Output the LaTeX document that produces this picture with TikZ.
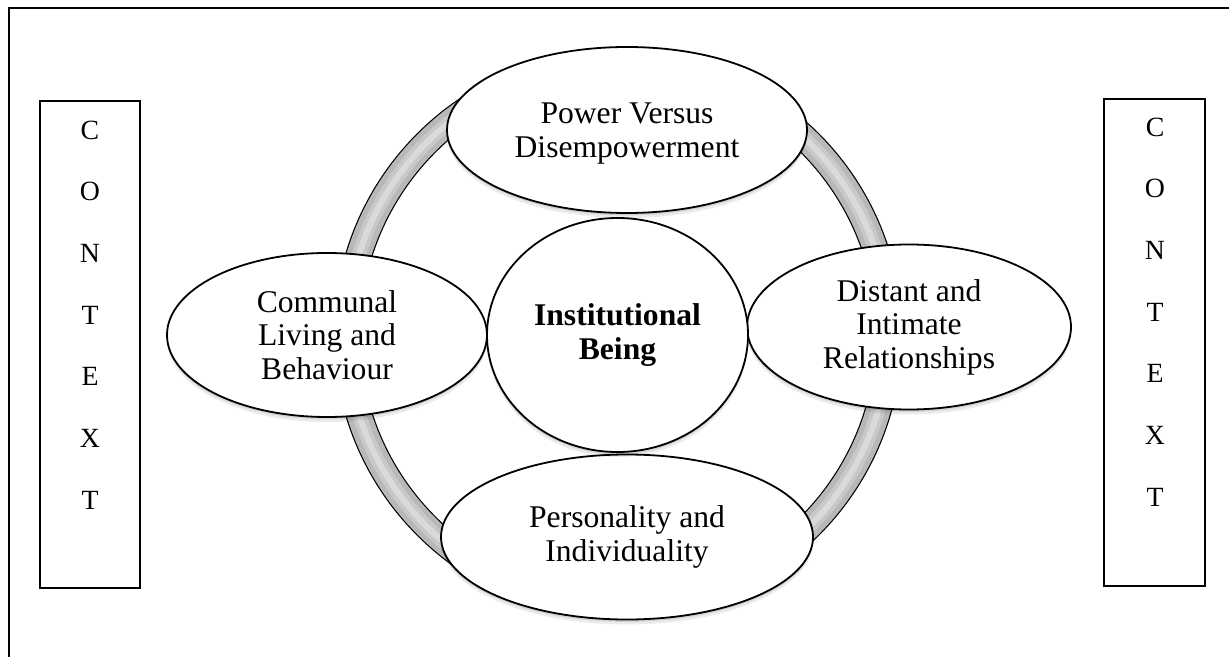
\documentclass[tikz,border=0pt]{standalone}
\usepackage{fontspec}
\setmainfont{Liberation Serif}
\usetikzlibrary{shapes.geometric}
\definecolor{ringA}{RGB}{184,184,184}
\definecolor{ringB}{RGB}{200,200,200}
\definecolor{ringC}{RGB}{218,218,218}
\begin{document}
\begin{tikzpicture}[x=0.5pt,y=-0.5pt,
  lbl/.style={font=\fontsize{15.8}{16.8}\selectfont, align=center},
  softshadow/.style={preaction={fill=black,opacity=0.08,transform canvas={yshift=-2.5pt}},
                     preaction={fill=black,opacity=0.10,transform canvas={yshift=-1.2pt}}},
  bubble/.style={ellipse, draw, line width=0.9pt, fill=white, inner sep=0pt, softshadow, lbl},
  ctxbox/.style={draw, line width=1pt, inner sep=0pt},
  ctxletter/.style={font=\fontsize{13.9}{14}\selectfont, inner sep=0pt}]
\useasboundingbox (0,0) rectangle (1229,657);
% outer frame
\draw[line width=1.2pt] (9,657) -- (9,8) -- (1229,8);
% ring
\coordinate (rc) at (618,334.5);
\draw[black, line width=13.4pt] (rc) circle[radius=271];
\draw[ringA, line width=12.2pt] (rc) circle[radius=271];
\draw[ringB, line width=7pt] (rc) circle[radius=271];
\draw[ringC, line width=3pt] (rc) circle[radius=271];
% bubbles
\node[bubble, minimum width=180pt, minimum height=83pt] (power) at (627,130) {\rule{0pt}{14pt}Power Versus\\Disempowerment};
\node[bubble, minimum width=160pt, minimum height=82pt] (communal) at (327,335) {Communal\\Living and\\Behaviour};
\node[bubble, minimum width=162pt, minimum height=82.5pt] (distant) at (909,327) {Distant and\\Intimate\\Relationships};
\node[bubble, minimum width=186pt, minimum height=82.5pt] (personality) at (627,537) {Personality and\\Individuality};
\node[bubble, minimum width=130.5pt, minimum height=117pt, font=\fontsize{15.8}{16.8}\selectfont\bfseries] (core) at (617.5,335) {Institutional\\Being};
% context boxes
\node[ctxbox, minimum width=50pt, minimum height=243.5pt] (ctxL) at (90,344.5) {};
\node[ctxbox, minimum width=50.5pt, minimum height=243.5pt] (ctxR) at (1154.5,342.5) {};
\foreach \l [count=\i from 0] in {C,O,N,T,E,X,T} {
  \node[ctxletter] (cl\i) at (90,{130+61.67*\i}) {\l};
  \node[ctxletter] (cr\i) at (1155,{127+61.67*\i}) {\l};
}
\end{tikzpicture}
\end{document}
